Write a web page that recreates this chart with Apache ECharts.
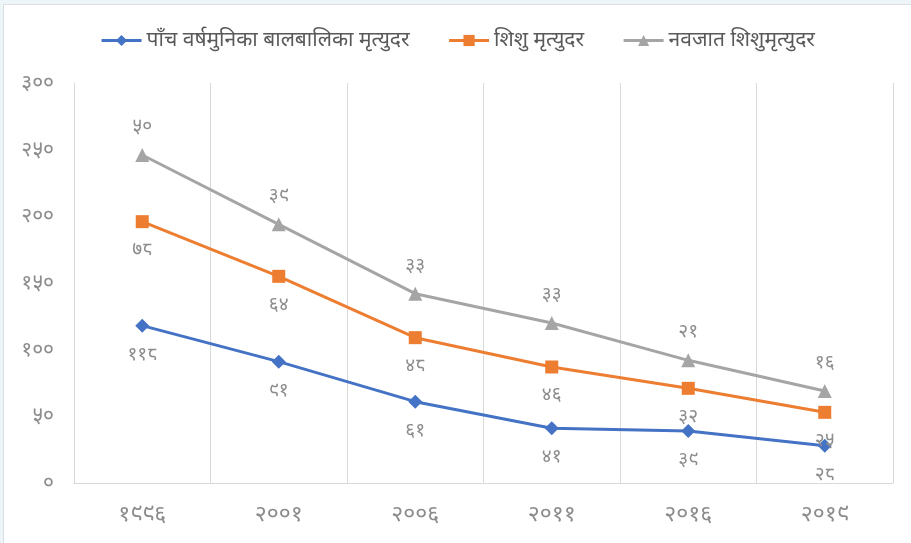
<!DOCTYPE html>
<html lang="ne">
<head>
    <meta charset="UTF-8">
    <title>मृत्युदर</title>
    <style>
        body { margin: 0; padding: 0; background: #eef5f9; }
        #chart {
            position: absolute;
            left: 3px;
            top: 4px;
            width: 908px;
            height: 539px;
            background: #ffffff;
            border-left: 1px solid #d9dfe3;
            border-top: 1px solid #d9dfe3;
            box-sizing: border-box;
        }
    </style>
</head>
<body>
    <div id="chart"></div>
    <script src="https://cdn.jsdelivr.net/npm/echarts@6/dist/echarts.min.js"></script>
    <script>
        var years = ['१९९६', '२००१', '२००६', '२०११', '२०१६', '२०१९'];
        var seriesNames = ['पाँच वर्षमुनिका बालबालिका मृत्युदर', 'शिशु मृत्युदर', 'नवजात शिशुमृत्युदर'];
        var underFive = [118, 91, 61, 41, 39, 28];
        var infant = [78, 64, 48, 46, 32, 25];
        var neonatal = [50, 39, 33, 33, 21, 16];
        var yTicks = ['०', '५०', '१००', '१५०', '२००', '२५०', '३००'];

        var digits = '०१२३४५६७८९';
        function toNepali(n) {
            return String(n).replace(/[0-9]/g, function (d) { return digits[+d]; });
        }

        var gray = '#8c8c8c';
        var font = '"Noto Sans", "Noto Sans CJK SC", sans-serif';

        function makeSeries(name, data, color, symbol, size, pos) {
            return {
                name: name,
                type: 'line',
                stack: 'total',
                data: data,
                symbol: symbol,
                symbolSize: size,
                lineStyle: { width: 3, color: color },
                itemStyle: { color: color },
                label: {
                    show: true,
                    position: pos,
                    distance: 12,
                    color: gray,
                    fontSize: 19,
                    fontFamily: font,
                    formatter: function (p) { return toNepali(p.value); }
                }
            };
        }

        var chart = echarts.init(document.getElementById('chart'));
        chart.setOption({
            animation: false,
            textStyle: { fontFamily: font },
            legend: {
                top: 20,
                left: 'center',
                itemWidth: 40,
                itemHeight: 14,
                itemGap: 38,
                lineStyle: { width: 3 },
                textStyle: { color: '#595959', fontSize: 21, fontFamily: font },
                data: seriesNames
            },
            grid: { left: 70, right: 18, top: 78, bottom: 60 },
            xAxis: {
                type: 'category',
                data: years,
                boundaryGap: true,
                axisLine: { lineStyle: { color: '#d9d9d9', width: 1 } },
                axisTick: { show: false },
                splitLine: { show: true, interval: 0, lineStyle: { color: '#d9d9d9' } },
                axisLabel: { color: gray, fontSize: 23, margin: 20, fontFamily: font }
            },
            yAxis: {
                type: 'value',
                min: 0,
                max: 300,
                interval: 50,
                axisLine: { show: true, lineStyle: { color: '#d9d9d9' } },
                splitLine: { show: false },
                axisLabel: {
                    color: gray,
                    fontSize: 21,
                    margin: 20,
                    fontFamily: font,
                    formatter: function (v) { return yTicks[v / 50]; }
                }
            },
            series: [
                makeSeries(seriesNames[0], underFive, '#4472C4', 'diamond', 14, 'bottom'),
                makeSeries(seriesNames[1], infant, '#ED7D31', 'rect', 13, 'bottom'),
                makeSeries(seriesNames[2], neonatal, '#A5A5A5', 'triangle', 14, 'top')
            ]
        });
    </script>
</body>
</html>
